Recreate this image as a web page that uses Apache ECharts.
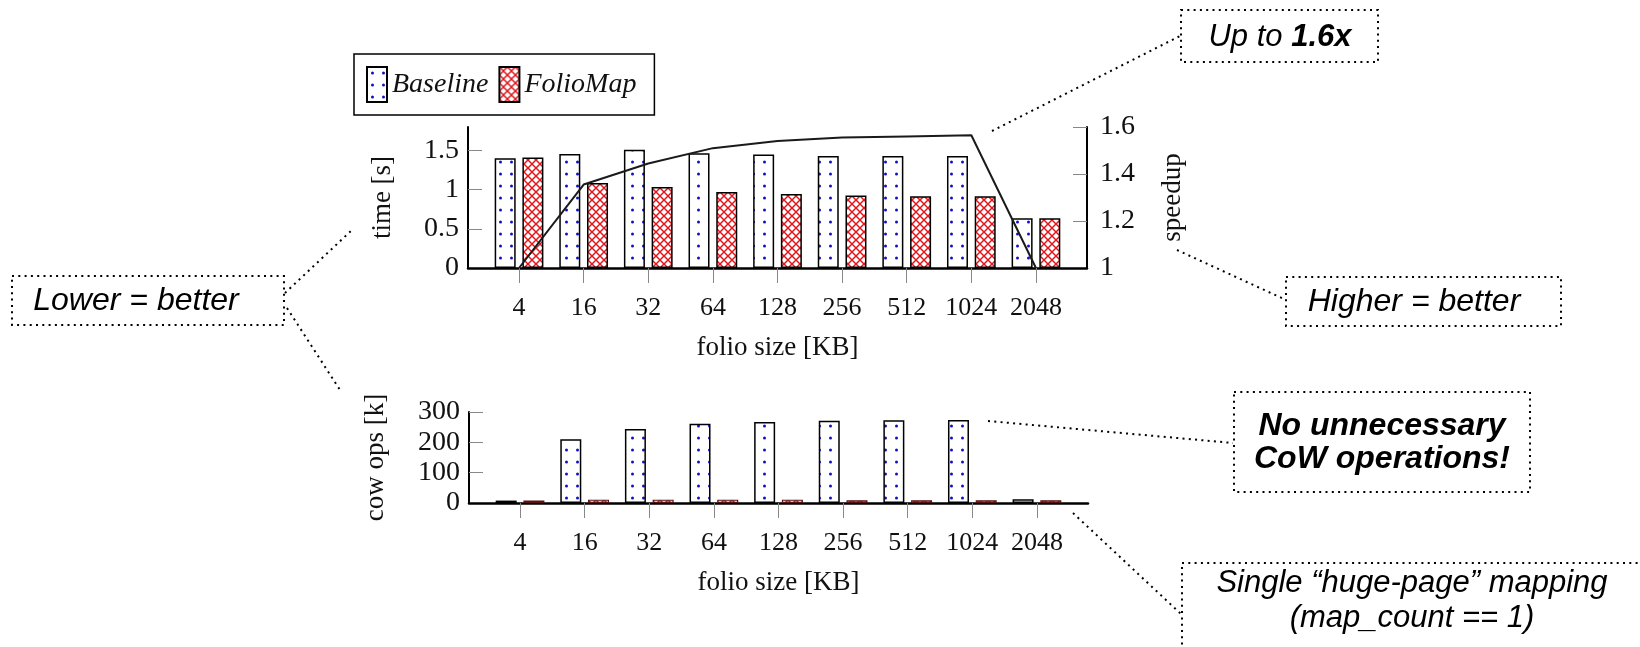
<!DOCTYPE html>
<html>
<head>
<meta charset="utf-8">
<script src="https://cdn.jsdelivr.net/npm/echarts@6/dist/echarts.min.js"></script>
<style>
html,body{margin:0;padding:0;background:#fff;}
#chart{width:1640px;height:647px;}
</style>
</head>
<body>
<div id="chart"></div>
<script>
// ---- data ----
const categories = ['4', '16', '32', '64', '128', '256', '512', '1024', '2048'];
const timeBaseline = [1.40, 1.455, 1.51, 1.465, 1.45, 1.43, 1.43, 1.43, 0.635];
const timeFolioMap = [1.41, 1.085, 1.035, 0.97, 0.945, 0.925, 0.915, 0.915, 0.635];
const speedup = [1.0, 1.355, 1.445, 1.51, 1.54, 1.555, 1.56, 1.565, 1.0];
const cowBaseline = [8, 210, 244, 261, 267, 271, 273, 274, 12];
const cowFolioMap = [8, 11, 11, 11, 11, 9, 9, 9, 9];
const timeTicks = [0, 0.5, 1, 1.5];
const speedupTicks = [1, 1.2, 1.4, 1.6];
const cowTicks = [0, 100, 200, 300];

// ---- patterns ----
function dotPattern() {
  const c = document.createElement('canvas');
  c.width = 11; c.height = 12;
  const g = c.getContext('2d');
  g.fillStyle = '#ffffff'; g.fillRect(0, 0, 11, 12);
  g.fillStyle = '#1010c8';
  g.beginPath(); g.arc(5.5, 6, 1.5, 0, Math.PI * 2); g.fill();
  return c;
}
function crossPattern() {
  const s = 8;
  const c = document.createElement('canvas');
  c.width = s; c.height = s;
  const g = c.getContext('2d');
  g.fillStyle = '#ffffff'; g.fillRect(0, 0, s, s);
  g.strokeStyle = '#e3161c'; g.lineWidth = 1.5;
  g.beginPath();
  g.moveTo(-1, -1); g.lineTo(s + 1, s + 1);
  g.moveTo(s + 1, -1); g.lineTo(-1, s + 1);
  g.stroke();
  return c;
}
const dotFill = { image: dotPattern(), repeat: 'repeat' };
const crossFill = { image: crossPattern(), repeat: 'repeat' };

const idx = categories.map((_, i) => i);
const serif = 'Liberation Serif';
const sans = 'Liberation Sans';
const txt = '#111';

function xAxisCfg(gridIndex) {
  return {
    type: 'value', gridIndex, min: -0.79, max: 8.79,
    axisLine: { show: true, onZero: false, lineStyle: { color: '#000', width: 2.5 } },
    axisTick: { show: true, customValues: idx, inside: false, length: 15, lineStyle: { color: '#888', width: 1 } },
    axisLabel: { customValues: idx, formatter: v => categories[Math.round(v)], fontFamily: serif, fontSize: 26, color: txt, margin: 27 },
    splitLine: { show: false },
    name: 'folio size [KB]', nameLocation: 'middle', nameGap: 66,
    nameTextStyle: { fontFamily: serif, fontSize: 27, color: txt }
  };
}
function yAxisCfg(gridIndex, min, max, ticks, name, gap, pos) {
  return {
    type: 'value', gridIndex, min, max, position: pos || 'left',
    axisLine: { show: true, onZero: false, lineStyle: { color: '#000', width: 2 } },
    axisTick: { show: true, customValues: ticks.slice(1), inside: true, length: 14, lineStyle: { color: '#888', width: 1 } },
    axisLabel: { customValues: ticks, fontFamily: serif, fontSize: 28, color: txt, margin: pos === 'right' ? 13 : 9 },
    splitLine: { show: false },
    name, nameLocation: 'middle', nameGap: gap, nameRotate: 90,
    nameTextStyle: { fontFamily: serif, fontSize: 27, color: txt }
  };
}

const barBase = { type: 'bar', barWidth: 21, barGap: '32%', itemStyle: { borderColor: '#000', borderWidth: 1.5 } };
const dotted = { stroke: '#000', lineWidth: 2, lineDash: [2, 4.3], fill: 'none' };

const chart = echarts.init(document.getElementById('chart'), null, { renderer: 'canvas' });
chart.setOption({
  animation: false,
  backgroundColor: '#fff',
  grid: [
    { left: 468, top: 127, width: 619, height: 141 },
    { left: 469, top: 412, width: 619, height: 91 }
  ],
  legend: {
    data: ['Baseline', 'FolioMap'], left: 354, top: 54,
    padding: [12, 18, 12, 12], itemGap: 10, itemWidth: 20, itemHeight: 35,
    borderColor: '#000', borderWidth: 1.5, icon: 'rect',
    textStyle: { fontFamily: serif, fontStyle: 'italic', fontSize: 28, color: txt }
  },
  xAxis: [xAxisCfg(0), xAxisCfg(1)],
  yAxis: [
    yAxisCfg(0, 0, 1.8, timeTicks, 'time [s]', 72, 'left'),
    yAxisCfg(0, 1, 1.6, speedupTicks, 'speedup', 72, 'right'),
    yAxisCfg(1, 0, 300, cowTicks, 'cow ops [k]', 80, 'left')
  ],
  series: [
    Object.assign({}, barBase, { name: 'Baseline', xAxisIndex: 0, yAxisIndex: 0,
      itemStyle: Object.assign({}, barBase.itemStyle, { color: dotFill }),
      data: idx.map(i => [i, timeBaseline[i]]) }),
    Object.assign({}, barBase, { name: 'FolioMap', xAxisIndex: 0, yAxisIndex: 0,
      itemStyle: Object.assign({}, barBase.itemStyle, { color: crossFill }),
      data: idx.map(i => [i, timeFolioMap[i]]) }),
    { name: 'speedup', type: 'line', xAxisIndex: 0, yAxisIndex: 1, z: 5,
      showSymbol: false, symbol: 'none', lineStyle: { color: '#1a1a1a', width: 2 },
      data: idx.map(i => [i, speedup[i]]) },
    Object.assign({}, barBase, { name: 'Baseline', xAxisIndex: 1, yAxisIndex: 2,
      itemStyle: Object.assign({}, barBase.itemStyle, { color: dotFill }),
      data: idx.map(i => [i, cowBaseline[i]]) }),
    Object.assign({}, barBase, { name: 'FolioMap', xAxisIndex: 1, yAxisIndex: 2,
      itemStyle: Object.assign({}, barBase.itemStyle, { color: crossFill, borderColor: '#5a1010', borderWidth: 1.2 }),
      data: idx.map(i => [i, cowFolioMap[i]]) })
  ],
  graphic: [
    // Up to 1.6x
    { type: 'line', shape: { x1: 992, y1: 131, x2: 1180, y2: 36 }, style: dotted, silent: true },
    { type: 'rect', shape: { x: 1181, y: 10, width: 197, height: 52 }, style: dotted, silent: true },
    { type: 'text', x: 1280, y: 37, silent: true, style: {
        text: '{a|Up to }{b|1.6x}', align: 'center', verticalAlign: 'middle',
        rich: {
          a: { fontFamily: sans, fontStyle: 'italic', fontSize: 31, fill: '#000' },
          b: { fontFamily: sans, fontStyle: 'italic', fontWeight: 'bold', fontSize: 31, fill: '#000' }
        } } },
    // Lower = better
    { type: 'line', shape: { x1: 285, y1: 293, x2: 353, y2: 229 }, style: dotted, silent: true },
    { type: 'line', shape: { x1: 287, y1: 308, x2: 340, y2: 390 }, style: dotted, silent: true },
    { type: 'rect', shape: { x: 12, y: 276, width: 272, height: 49 }, style: dotted, silent: true },
    { type: 'text', x: 136, y: 301, silent: true, style: {
        text: 'Lower = better', align: 'center', verticalAlign: 'middle',
        fontFamily: sans, fontStyle: 'italic', fontSize: 32, fill: '#000' } },
    // Higher = better
    { type: 'line', shape: { x1: 1177, y1: 250, x2: 1284, y2: 299 }, style: dotted, silent: true },
    { type: 'rect', shape: { x: 1286, y: 277, width: 275, height: 49 }, style: dotted, silent: true },
    { type: 'text', x: 1414, y: 302, silent: true, style: {
        text: 'Higher = better', align: 'center', verticalAlign: 'middle',
        fontFamily: sans, fontStyle: 'italic', fontSize: 32, fill: '#000' } },
    // No unnecessary CoW operations!
    { type: 'line', shape: { x1: 988, y1: 421, x2: 1233, y2: 443 }, style: dotted, silent: true },
    { type: 'rect', shape: { x: 1234, y: 392, width: 296, height: 100 }, style: dotted, silent: true },
    { type: 'text', x: 1382, y: 443, silent: true, style: {
        text: 'No unnecessary\nCoW operations!', align: 'center', verticalAlign: 'middle', lineHeight: 33,
        fontFamily: sans, fontStyle: 'italic', fontWeight: 'bold', fontSize: 32, fill: '#000' } },
    // Single huge-page mapping
    { type: 'line', shape: { x1: 1073, y1: 513, x2: 1181, y2: 614 }, style: dotted, silent: true },
    { type: 'rect', shape: { x: 1182, y: 563, width: 470, height: 100 }, style: dotted, silent: true },
    { type: 'text', x: 1412, y: 601, silent: true, style: {
        text: 'Single \u201chuge-page\u201d mapping\n(map_count == 1)', align: 'center', verticalAlign: 'middle', lineHeight: 35,
        fontFamily: sans, fontStyle: 'italic', fontSize: 31, fill: '#000' } }
  ]
});
</script>
</body>
</html>
